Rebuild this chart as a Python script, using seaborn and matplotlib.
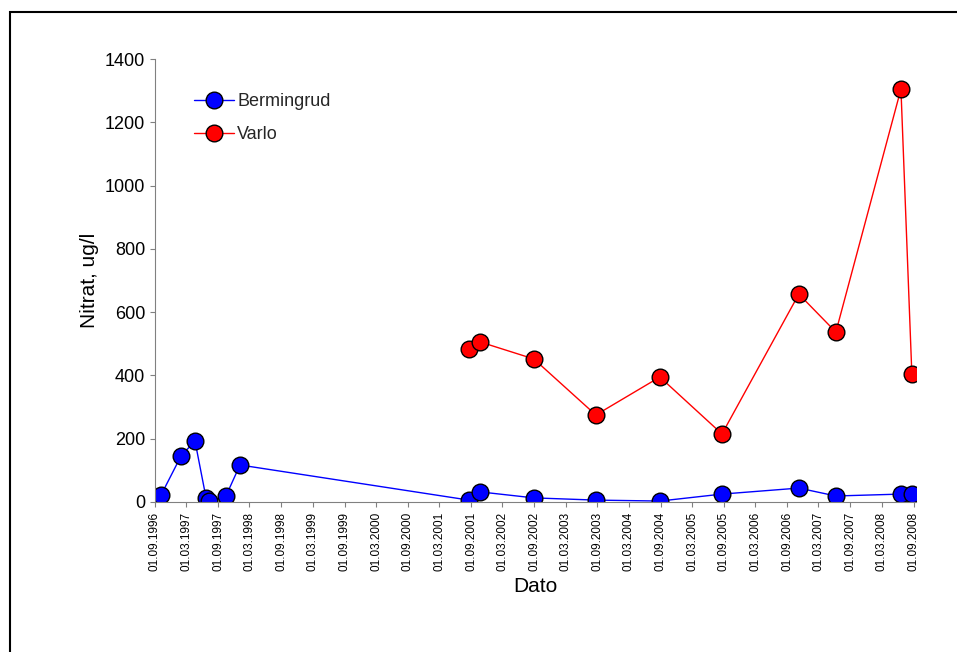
import pandas as pd
import matplotlib.pyplot as plt
import seaborn as sns

berm_dates = ['1996-10-06', '1997-01-29', '1997-04-20', '1997-06-23', '1997-07-10',
              '1997-10-16', '1998-01-05', '2001-08-20', '2001-10-22', '2002-08-30',
              '2003-08-23', '2004-08-27', '2005-08-21', '2006-11-08', '2007-06-10',
              '2008-06-20', '2008-08-22']
berm_vals = [22, 145, 193, 13, 3, 19, 117, 6, 32, 13, 6, 3, 25, 44, 19, 25, 25]

varlo_dates = ['2001-08-20', '2001-10-22', '2002-08-30', '2003-08-23', '2004-08-27',
               '2005-08-21', '2006-11-08', '2007-06-10', '2008-06-20', '2008-08-22']
varlo_vals = [483, 506, 452, 275, 395, 215, 657, 537, 1305, 405]

berm = pd.DataFrame({'Dato': pd.to_datetime(berm_dates), 'Nitrat': berm_vals})
varlo = pd.DataFrame({'Dato': pd.to_datetime(varlo_dates), 'Nitrat': varlo_vals})

sns.set_style("ticks")
plt.rcParams['font.family'] = ['Liberation Sans', 'DejaVu Sans']

fig = plt.figure(figsize=(9.57, 6.52), dpi=100)
ax = fig.add_axes([155/957, 1-502/652, (916-155)/957, (502-59)/652])
fig.patches.append(plt.Rectangle((10/957, -0.05), 1.2, 1.05 - 12/652 + 0.0, transform=fig.transFigure,
                                 fill=False, edgecolor='black', linewidth=1.5))

sns.lineplot(data=berm, x='Dato', y='Nitrat', ax=ax, color='#0000ff', linewidth=1,
             marker='o', markersize=12, markerfacecolor='#0000ff',
             markeredgecolor='black', markeredgewidth=1, label='Bermingrud')
sns.lineplot(data=varlo, x='Dato', y='Nitrat', ax=ax, color='#ff0000', linewidth=1,
             marker='o', markersize=12, markerfacecolor='#ff0000',
             markeredgecolor='black', markeredgewidth=1, label='Varlo')

ticks = pd.date_range('1996-09-01', '2008-09-01', freq='6MS')
ax.set_xticks(ticks)
ax.set_xticklabels([t.strftime('%d.%m.%Y') for t in ticks], rotation=90, fontsize=8.5)
ax.set_xlim(pd.Timestamp('1996-09-01'), pd.Timestamp('2008-09-15'))
ax.set_ylim(0, 1400)
ax.set_yticks(range(0, 1401, 200))
ax.tick_params(axis='y', labelsize=13, colors='black')
ax.tick_params(axis='both', color='#808080', labelcolor='black')
for s in ['left', 'bottom']:
    ax.spines[s].set_color('#808080')
ax.set_xlabel('Dato', fontsize=15, color='black')
ax.set_ylabel('Nitrat, ug/l', fontsize=15, color='black')
sns.despine(ax=ax)
ax.legend(loc='upper left', bbox_to_anchor=(0.03, 0.96), frameon=False, fontsize=13,
          handlelength=2.2, labelspacing=0.9, handletextpad=0.2)

fig.savefig('out.png')
